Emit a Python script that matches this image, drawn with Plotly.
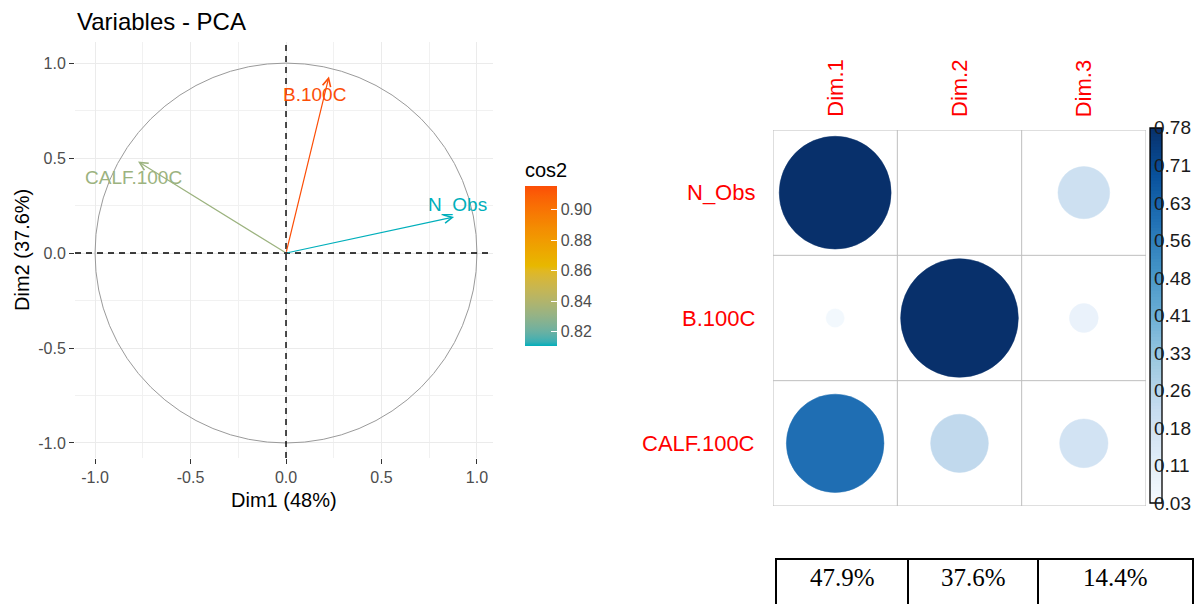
import numpy as np
import plotly.graph_objects as go
from plotly.colors import sample_colorscale, sequential

# ---------------------------------------------------------------- data
variables = ["N_Obs", "B.100C", "CALF.100C"]

# coordinates of the variables on the first two principal axes
dim1_coord = [0.88, 0.225, -0.775]
dim2_coord = [0.19, 0.93, 0.482]

# cos2 of each variable on the first three dimensions
dims = ["Dim.1", "Dim.2", "Dim.3"]
cos2_dim1 = [0.78, 0.05, 0.60]
cos2_dim2 = [0.03, 0.86, 0.23]
cos2_dim3 = [0.19, 0.08, 0.17]

# explained variance per dimension (%)
explained = [47.9, 37.6, 14.4]

pca_ticks = [-1.0, -0.5, 0.0, 0.5, 1.0]
pca_ticktext = ["-1.0", "-0.5", "0.0", "0.5", "1.0"]
cos2_ticks = [0.82, 0.84, 0.86, 0.88, 0.90]
corr_lim = [0.03, 0.78]
corr_ticktext = ["0.03", "0.11", "0.18", "0.26", "0.33", "0.41",
                 "0.48", "0.56", "0.63", "0.71", "0.78"]

# ---------------------------------------------------------------- helpers
W, H = 1201, 604


def px_x(p):
    return p / W


def px_y(p):
    return (H - p) / H


def _hex_rgb(h):
    h = h.lstrip("#")
    return np.array([int(h[i:i + 2], 16) for i in (0, 2, 4)]) / 255.0


_M = np.array([[0.4124564, 0.3575761, 0.1804375],
               [0.2126729, 0.7151522, 0.0721750],
               [0.0193339, 0.1191920, 0.9503041]])
_WHITE = np.array([0.95047, 1.0, 1.08883])


def rgb_to_lab(rgb):
    lin = np.where(rgb <= 0.04045, rgb / 12.92, ((rgb + 0.055) / 1.055) ** 2.4)
    xyz = _M @ lin / _WHITE
    f = np.where(xyz > 0.008856, np.cbrt(xyz), 7.787 * xyz + 16 / 116)
    return np.array([116 * f[1] - 16, 500 * (f[0] - f[1]), 200 * (f[1] - f[2])])


def lab_to_rgb(lab):
    fy = (lab[0] + 16) / 116
    fx = fy + lab[1] / 500
    fz = fy - lab[2] / 200
    f = np.array([fx, fy, fz])
    xyz = np.where(f ** 3 > 0.008856, f ** 3, (f - 16 / 116) / 7.787) * _WHITE
    lin = np.linalg.solve(_M, xyz)
    lin = np.clip(lin, 0, 1)
    rgb = np.where(lin <= 0.0031308, 12.92 * lin, 1.055 * lin ** (1 / 2.4) - 0.055)
    return np.clip(rgb, 0, 1)


def lab_gradient(hexes, n=41):
    labs = [rgb_to_lab(_hex_rgb(h)) for h in hexes]
    scale = []
    for t in np.linspace(0, 1, n):
        pos = t * (len(labs) - 1)
        i = min(int(pos), len(labs) - 2)
        u = pos - i
        rgb = lab_to_rgb(labs[i] * (1 - u) + labs[i + 1] * u)
        r, g, b = (np.round(rgb * 255)).astype(int)
        scale.append([float(t), f"rgb({r},{g},{b})"])
    return scale


cos2_scale = lab_gradient(["#00AFBB", "#E7B800", "#FC4E07"])

cos2_2d = [x * x + y * y for x, y in zip(dim1_coord, dim2_coord)]
cmin, cmax = min(cos2_2d), max(cos2_2d)
arrow_cols = sample_colorscale(cos2_scale, [(c - cmin) / (cmax - cmin) for c in cos2_2d])

FONT = "Liberation Sans"
fig = go.Figure()

# ---------------------------------------------------------------- PCA variables plot
# colour key for cos2 (invisible markers at the arrow tips)
fig.add_trace(go.Scatter(
    x=dim1_coord, y=dim2_coord, mode="markers", xaxis="x", yaxis="y",
    hoverinfo="skip",
    marker=dict(size=0.1, color=cos2_2d, colorscale=cos2_scale, cmin=cmin, cmax=cmax,
                showscale=True,
                colorbar=dict(x=px_x(525), xanchor="left", xpad=0, ypad=0,
                              y=px_y(346), yanchor="bottom",
                              len=187, lenmode="pixels", thickness=32,
                              outlinewidth=0, ticks="inside", ticklen=6,
                              tickcolor="white", tickwidth=1,
                              tickvals=cos2_ticks,
                              ticktext=[f"{v:.2f}" for v in cos2_ticks],
                              tickfont=dict(size=16, color="#4D4D4D", family=FONT),
                              title=dict(text="cos2", side="top",
                                         font=dict(size=20, color="black", family=FONT))))))

# unit correlation circle
fig.add_shape(type="circle", xref="x", yref="y", x0=-1, y0=-1, x1=1, y1=1,
              line=dict(color="#9A9A9A", width=1), layer="above")
# reference lines through the origin
fig.add_shape(type="line", xref="x", yref="y domain", x0=0, x1=0, y0=0, y1=1,
              line=dict(color="black", width=1.4, dash="6px,5px"), layer="above")
fig.add_shape(type="line", xref="x domain", yref="y", x0=0, x1=1, y0=0, y1=0,
              line=dict(color="black", width=1.4, dash="6px,5px"), layer="above")

label_shift = {"N_Obs": (3, 12), "B.100C": (-14, -18), "CALF.100C": (-5, -16)}
for name, x, y, col in zip(variables, dim1_coord, dim2_coord, arrow_cols):
    fig.add_annotation(x=x, y=y, ax=0, ay=0, xref="x", yref="y", axref="x", ayref="y",
                       text="", showarrow=True, arrowhead=5, arrowsize=1.35,
                       arrowwidth=1.2, arrowcolor=col, standoff=0, startstandoff=0)
    dx, dy = label_shift[name]
    fig.add_annotation(x=x, y=y, xref="x", yref="y", text=name, showarrow=False,
                       xanchor="center", yanchor="middle", xshift=dx, yshift=dy,
                       font=dict(size=19, color=col, family=FONT))

fig.add_annotation(x=px_x(75), y=px_y(22), xref="paper", yref="paper",
                   xanchor="left", yanchor="middle", showarrow=False,
                   text="Variables - PCA", font=dict(size=24, color="black", family=FONT))
fig.add_annotation(x=px_x(284), y=px_y(500), xref="paper", yref="paper",
                   xanchor="center", yanchor="middle",
                   showarrow=False, text=f"Dim1 ({round(explained[0])}%)",
                   font=dict(size=20, color="black", family=FONT))
fig.add_annotation(x=px_x(22), y=px_y(250), xref="paper", yref="paper",
                   xanchor="center", yanchor="middle",
                   showarrow=False, textangle=-90, text=f"Dim2 ({explained[1]}%)",
                   font=dict(size=20, color="black", family=FONT))

# ---------------------------------------------------------------- cos2 correlation plot
fig.add_trace(go.Scatter(x=[1, 2, 3], y=[1, 2, 3], xaxis="x2", yaxis="y2",
                         mode="markers", marker=dict(size=1, opacity=0),
                         hoverinfo="skip"))

n_rows, n_cols = len(variables), len(dims)
for k in range(n_cols + 1):
    fig.add_shape(type="line", xref="x2", yref="y2", x0=k + 0.5, x1=k + 0.5,
                  y0=0.5, y1=n_rows + 0.5, line=dict(color="#BEBEBE", width=1))
for k in range(n_rows + 1):
    fig.add_shape(type="line", xref="x2", yref="y2", y0=k + 0.5, y1=k + 0.5,
                  x0=0.5, x1=n_cols + 0.5, line=dict(color="#BEBEBE", width=1))

cos2_matrix = np.array([cos2_dim1, cos2_dim2, cos2_dim3]).T  # rows: variables
lo, hi = corr_lim
for i in range(n_rows):
    for j in range(n_cols):
        v = cos2_matrix[i, j]
        s = max((v - lo) / (hi - lo), 0.0)
        r = 0.45 * np.sqrt(s)
        if r <= 0:
            continue
        col = sample_colorscale(sequential.Blues, [min(s, 1.0)])[0]
        fig.add_shape(type="circle", xref="x2", yref="y2",
                      x0=j + 1 - r, x1=j + 1 + r, y0=i + 1 - r, y1=i + 1 + r,
                      fillcolor=col, line=dict(color=col, width=0.5))

for i, name in enumerate(variables):
    fig.add_annotation(x=px_x(757), y=i + 1, xref="paper", yref="y2",
                       xanchor="right", yanchor="middle", showarrow=False,
                       text=name, font=dict(size=22, color="red", family=FONT))
for j, d in enumerate(dims):
    fig.add_annotation(x=j + 1, y=px_y(119), xref="x2", yref="paper",
                       xanchor="center", yanchor="bottom", showarrow=False,
                       textangle=-90, text=d,
                       font=dict(size=22, color="red", family=FONT))

# colour legend of the correlation plot
edges = np.linspace(lo, hi, 121)
centers = (edges[:-1] + edges[1:]) / 2
fig.add_trace(go.Heatmap(z=[[c] for c in centers], x=[0], y=centers,
                         xaxis="x3", yaxis="y3", colorscale=sequential.Blues,
                         zmin=lo, zmax=hi, showscale=False, hoverinfo="skip"))
fig.add_shape(type="rect", xref="x3 domain", yref="y3 domain", x0=0, x1=1, y0=0, y1=1,
              line=dict(color="black", width=1.3), layer="above")
for v, t in zip(np.linspace(lo, hi, len(corr_ticktext)), corr_ticktext):
    fig.add_annotation(x=px_x(1152), y=v, xref="paper", yref="y3",
                       xanchor="left", yanchor="middle", showarrow=False,
                       text=t, font=dict(size=19, color="#1A1A1A", family=FONT))

# ---------------------------------------------------------------- explained variance table
tbl_x = [776, 908, 1038, 1193]
tbl_top, tbl_bottom = 559, 640
fig.add_shape(type="rect", xref="paper", yref="paper",
              x0=px_x(tbl_x[0]), x1=px_x(tbl_x[-1]),
              y0=px_y(tbl_bottom), y1=px_y(tbl_top),
              line=dict(color="black", width=2))
for xe in tbl_x[1:-1]:
    fig.add_shape(type="line", xref="paper", yref="paper",
                  x0=px_x(xe), x1=px_x(xe), y0=px_y(tbl_bottom), y1=px_y(tbl_top),
                  line=dict(color="black", width=2))
for k, pct in enumerate(explained):
    fig.add_annotation(x=px_x((tbl_x[k] + tbl_x[k + 1]) / 2), y=px_y(577),
                       xref="paper", yref="paper", showarrow=False,
                       xanchor="center", yanchor="middle",
                       text=f"{pct}%",
                       font=dict(size=25, color="black", family="Liberation Serif"))

# ---------------------------------------------------------------- layout
axis_common = dict(ticks="outside", ticklen=5, tickwidth=1, tickcolor="#333333",
                   tickfont=dict(size=16, color="#4D4D4D", family=FONT),
                   showgrid=True, gridcolor="#EBEBEB", gridwidth=1,
                   zeroline=False, showline=False,
                   tickvals=pca_ticks, ticktext=pca_ticktext,
                   minor=dict(tickvals=[-0.75, -0.25, 0.25, 0.75], showgrid=True,
                              gridcolor="#F1F1F1", gridwidth=1, ticks=""))

fig.update_layout(
    width=W, height=H, margin=dict(l=0, r=0, t=0, b=0),
    paper_bgcolor="white", plot_bgcolor="white", showlegend=False,
    font=dict(family=FONT),
    xaxis=dict(domain=[px_x(75), px_x(493)], range=[-1.105, 1.084], anchor="y",
               **axis_common),
    yaxis=dict(domain=[px_y(458), px_y(42)], range=[-1.079, 1.111], anchor="x",
               **axis_common),
    xaxis2=dict(domain=[px_x(773), px_x(1146)], range=[0.5, 3.5], anchor="y2",
                visible=False),
    yaxis2=dict(domain=[px_y(506), px_y(130)], range=[3.5, 0.5], anchor="x2",
                visible=False),
    xaxis3=dict(domain=[px_x(1150), px_x(1162)], range=[-0.5, 0.5], anchor="y3",
                visible=False),
    yaxis3=dict(domain=[px_y(503), px_y(128)], range=[lo, hi], anchor="x3",
                visible=False),
)

fig.write_html("out.html")
